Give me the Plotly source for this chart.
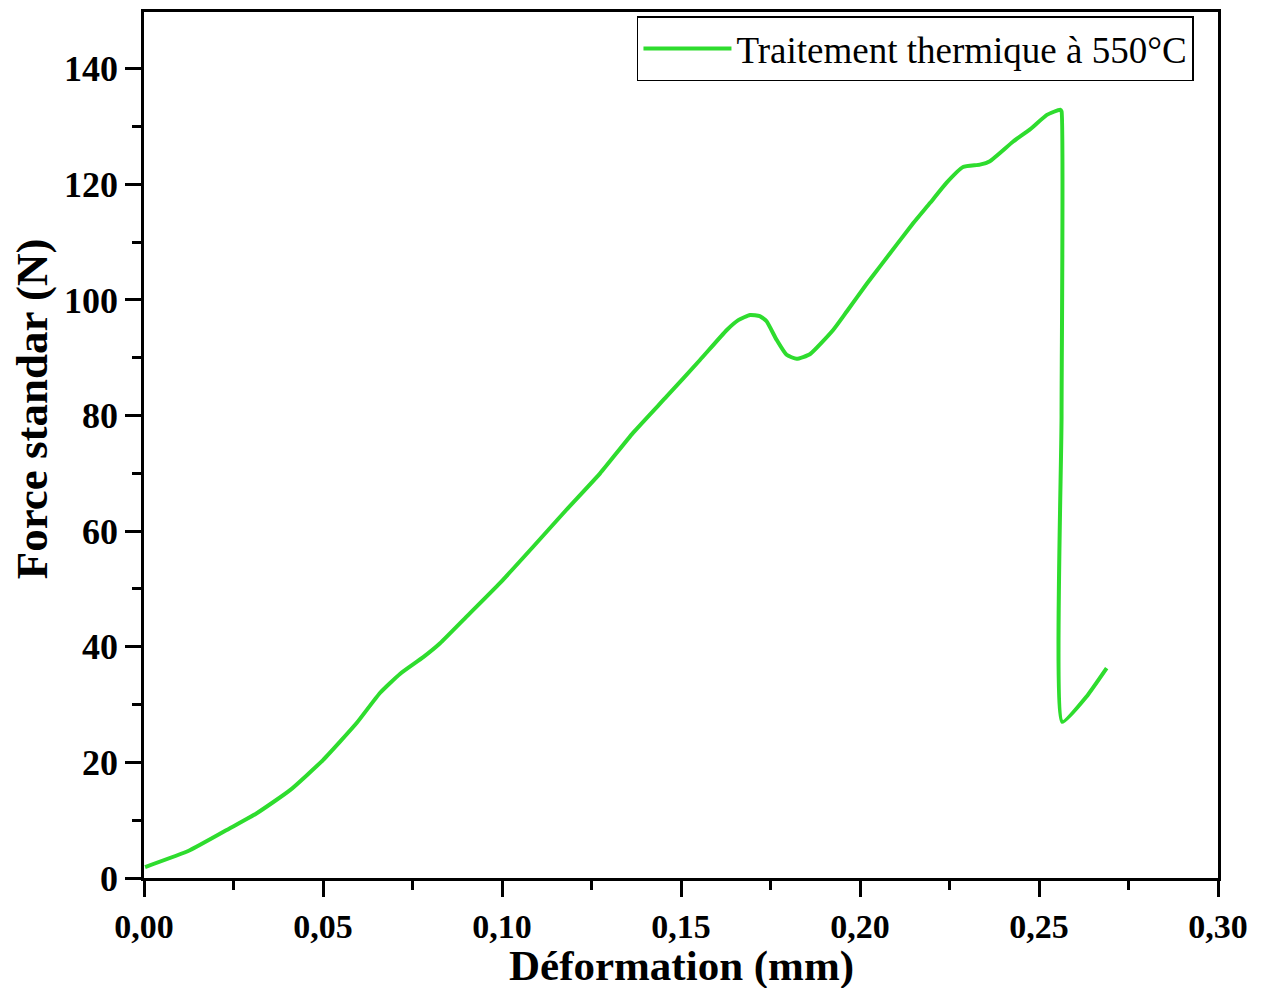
import plotly.graph_objects as go

# Force-displacement curve, heat treatment at 550 °C
deformation_mm = [
    0.0003, 0.0128, 0.0240, 0.0315, 0.0408, 0.0500, 0.0594, 0.0659, 0.0715,
    0.0780, 0.0827, 0.0901, 0.0994, 0.1087, 0.1180, 0.1274, 0.1366, 0.1460,
    0.1553, 0.1628, 0.1660, 0.1693, 0.1720, 0.1739, 0.1767, 0.1795, 0.1823,
    0.1860, 0.1925, 0.1963, 0.2019, 0.2056, 0.2149, 0.2196, 0.2242, 0.2288,
    0.2335, 0.2363, 0.2428, 0.2475, 0.2522, 0.2559, 0.2563, 0.2563, 0.2565,
    0.2633, 0.2689,
]
force_n = [
    1.9, 4.8, 8.6, 11.2, 15.2, 20.4, 26.8, 32.0, 35.3,
    38.2, 40.6, 45.2, 51.0, 57.3, 63.7, 70.0, 77.0, 83.3,
    89.6, 94.8, 96.5, 97.4, 97.2, 96.3, 93.1, 90.5, 89.8,
    90.6, 94.8, 98.0, 102.8, 105.8, 113.3, 116.8, 120.3, 123.0,
    123.4, 124.0, 127.4, 129.5, 132.0, 132.9, 132.6, 80.0, 27.0,
    31.4, 36.3,
]

series_name = "Traitement thermique à 550°C"
x_title = "Déformation (mm)"
y_title = "Force standar (N)"

serif = "Liberation Serif, Times New Roman, serif"

fig = go.Figure()
fig.add_trace(go.Scatter(
    x=deformation_mm, y=force_n, mode="lines", name=series_name,
    line=dict(color="#2edc2e", width=4, shape="spline", smoothing=0.45),
    showlegend=True,
))

axis_common = dict(
    showline=True, linecolor="black", linewidth=2.5, mirror=True,
    ticks="outside", ticklen=16, tickwidth=2.5, tickcolor="black",
    showgrid=False, zeroline=False, automargin=False,
)

fig.update_xaxes(
    range=[0, 0.30], tick0=0, dtick=0.05, tickformat=".2f",
    tickfont=dict(family=serif, size=34, color="black"),
    minor=dict(ticks="outside", ticklen=9, tickwidth=2.5, tickcolor="black", dtick=0.025),
    **axis_common,
)
fig.update_yaxes(
    range=[0, 149.8], tick0=0, dtick=20,
    tickfont=dict(family=serif, size=36, color="black"),
    minor=dict(ticks="outside", ticklen=9, tickwidth=2.5, tickcolor="black", dtick=10),
    **axis_common,
)

# axis titles as free labels in paper coordinates
fig.add_annotation(
    text=f"<b>{x_title}</b>",
    xref="paper", yref="paper", x=0.5, y=-0.1017,
    xanchor="center", yanchor="middle", showarrow=False,
    font=dict(family=serif, size=43, color="black"),
)
fig.add_annotation(
    text=f"<b>{y_title}</b>", textangle=-90,
    xref="paper", yref="paper", x=-0.104, y=0.5416,
    xanchor="center", yanchor="middle", showarrow=False,
    font=dict(family=serif, size=45, color="black"),
)

fig.update_layout(
    width=1263, height=988,
    margin=dict(l=144, r=45, t=12, b=110),
    paper_bgcolor="white", plot_bgcolor="white",
    separators=", ",
    font=dict(family=serif, color="black"),
    legend=dict(
        x=0.459, y=0.995, xanchor="left", yanchor="top",
        bgcolor="white", bordercolor="black", borderwidth=1.5,
        font=dict(family=serif, size=37, color="black"),
        itemwidth=88, tracegroupgap=0,
    ),
)
# bold tick labels
fig.update_xaxes(tickprefix="<b>", ticksuffix="</b>")
fig.update_yaxes(tickprefix="<b>", ticksuffix="</b>")

fig.write_html("out.html")
